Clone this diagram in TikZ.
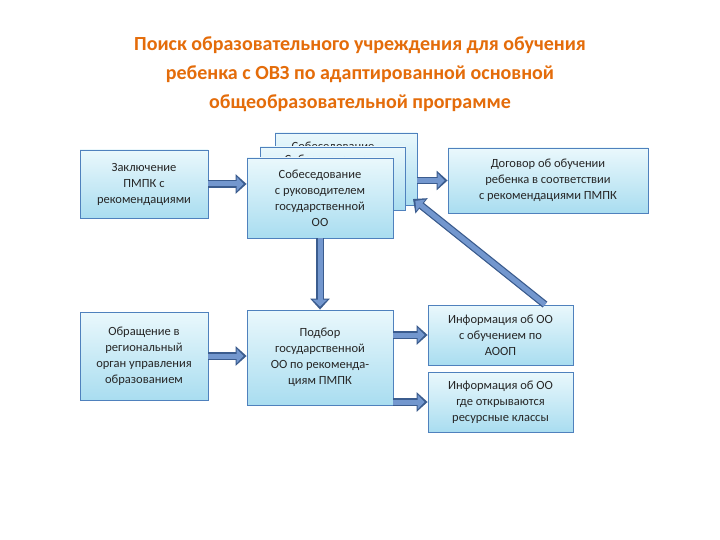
\documentclass[tikz,border=0pt]{standalone}
\usepackage{fontspec}
\setmainfont{Carlito}
\usetikzlibrary{arrows.meta}
\definecolor{ttl}{HTML}{E46C0A}
\definecolor{bx}{HTML}{4F81BD}
\definecolor{bxtop}{HTML}{EAF8FC}
\definecolor{bxbot}{HTML}{A9DDF0}
\definecolor{arr}{HTML}{7397CE}
\definecolor{arrb}{HTML}{3B5C8E}
\tikzset{
 box/.style={draw=bx, line width=0.8pt, top color=bxtop, bottom color=bxbot, align=center, font=\fontsize{12.5}{16}\selectfont, text=black!85, inner sep=2pt},
 lbl/.style={align=center, font=\fontsize{12.5}{16}\selectfont, text=black!85},
 fat/.style={draw=arrb, line width=7.5pt, -{Triangle[length=11pt,width=19pt]}, postaction={draw=arr, line width=5pt, shorten >=3pt, -{Triangle[length=7pt,width=14pt]}}},
}
\begin{document}
\begin{tikzpicture}[x=1pt,y=-1pt]
\useasboundingbox (0,0) rectangle (720,540);
\fill[white] (0,0) rectangle (720,540);
\node[text=ttl, font=\fontsize{20}{29}\selectfont\bfseries, align=center] (title) at (360,74)
 {Поиск образовательного учреждения для обучения\\ребенка с ОВЗ по адаптированной основной\\общеобразовательной программе};
\node[box, minimum width=142pt, minimum height=72pt] (b1) at (346,169) {};
\node[lbl] (b1t) at (333,147) {Собеседование};
\node[box, minimum width=145pt, minimum height=63pt] (b2) at (332.5,178.5) {};
\node[lbl] (b2t) at (326,160) {Собеседование};
\node[box, minimum width=146pt, minimum height=80pt] (c1) at (320,198) {Собеседование\\с руководителем\\государственной\\ОО};
\node[box, minimum width=128pt, minimum height=68pt] (l1) at (144,184) {Заключение\\ПМПК с\\рекомендациями};
\node[box, minimum width=128pt, minimum height=88pt] (l2) at (144,356) {Обращение в\\региональный\\орган управления\\образованием};
\node[box, minimum width=146pt, minimum height=95pt] (c2) at (320,357.5) {Подбор\\государственной\\ОО по рекоменда-\\циям ПМПК};
\node[box, minimum width=200pt, minimum height=65pt] (r1) at (548,180.5) {Договор об обучении\\ребенка в соответствии\\с рекомендациями ПМПК};
\node[box, minimum width=145pt, minimum height=60pt] (r2) at (500.5,335) {Информация об ОО\\с обучением по\\АООП};
\node[box, minimum width=145pt, minimum height=60pt] (r3) at (500.5,402) {Информация об ОО\\где открываются\\ресурсные классы};
\draw[fat] (l1.east) -- (c1.west|-l1.east);
\draw[fat] (b1.east|-r1.west) -- (r1.west);
\draw[fat] (c1.south) -- (c2.north);
\draw[fat] (l2.east) -- (c2.west|-l2.east);
\draw[fat] (c2.east|-r2.west) -- (r2.west);
\draw[fat] (c2.east|-r3.west) -- (r3.west);
\coordinate (dt) at (413,199);
\draw[fat] (r2.north -| 545,0) -- (dt);
\end{tikzpicture}
\end{document}
